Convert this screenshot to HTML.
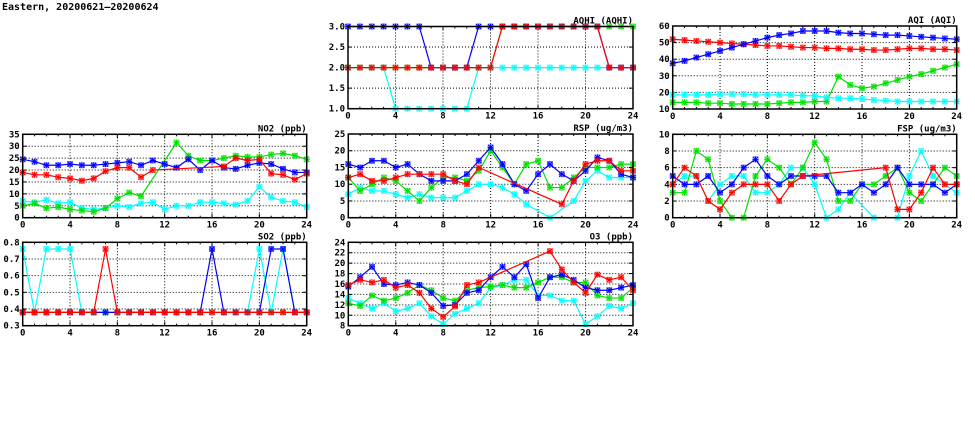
<!DOCTYPE html>
<html><head><meta charset="utf-8"><style>
body{margin:0;background:#fff;}
svg{display:block;}
text{font-family:"DejaVu Sans Mono","Liberation Mono",monospace;font-weight:bold;font-size:9px;fill:#000;}
</style></head><body>
<svg id="s" width="975" height="447" xmlns="http://www.w3.org/2000/svg">
<text x="2" y="10" style="font-size:10px">Eastern, 20200621–20200624</text>
</svg>
<script>
const S=document.getElementById('s');const NS='http://www.w3.org/2000/svg';
function el(t,a,txt){const e=document.createElementNS(NS,t);for(const k in a)e.setAttribute(k,a[k]);if(txt!==undefined)e.textContent=txt;S.appendChild(e);return e;}
const C={r:'#ff0000',g:'#00e000',b:'#0000ff',c:'#00ffff'};
function panel(p){
 const {x0,x1,yt,yb,ymin,ymax,ystep,title,series,dec}=p;
 const X=v=>x0+(x1-x0)*v/24, Y=v=>yb-(yb-yt)*(v-ymin)/(ymax-ymin);
 for(let v=4;v<24;v+=4)el('line',{x1:X(v),x2:X(v),y1:yt,y2:yb,stroke:'#000','stroke-dasharray':'1,2','stroke-width':1});
 for(let v=ymin+ystep;v<ymax-1e-9;v+=ystep)el('line',{x1:x0,x2:x1,y1:Y(v),y2:Y(v),stroke:'#000','stroke-dasharray':'1,2','stroke-width':1});
 for(let v=0;v<=24;v+=4){el('text',{x:X(v),y:yb+10,'text-anchor':'middle'},v);}
 for(let v=0;v<=24;v+=1){el('line',{x1:X(v),x2:X(v),y1:yb,y2:yb-(v%4?2:4),stroke:'#000'});el('line',{x1:X(v),x2:X(v),y1:yt,y2:yt+(v%4?2:4),stroke:'#000'});}
 for(let v=ymin;v<=ymax+1e-9;v+=ystep){el('text',{x:x0-3,y:Y(v)+3,'text-anchor':'end'},v.toFixed(dec||0));el('line',{x1:x0,x2:x0+4,y1:Y(v),y2:Y(v),stroke:'#000'});el('line',{x1:x1,x2:x1-4,y1:Y(v),y2:Y(v),stroke:'#000'});}
 el('text',{x:x1,y:yt-3,'text-anchor':'end'},title);
 for(const [col,d] of series){
  const pts=[];d.forEach((v,i)=>{if(v!==null)pts.push([X(i),Y(v)]);});
  el('polyline',{points:pts.map(q=>q.join(',')).join(' '),fill:'none',stroke:C[col],'stroke-width':1.2});
  for(const [a,b] of pts){
   el('rect',{x:a-2.5,y:b-2.5,width:5,height:5,fill:'none',stroke:C[col],'stroke-width':0.8,opacity:0.6});
   el('path',{d:`M${a-3},${b}H${a+3}M${a},${b-3}V${b+3}M${a-2.5},${b-2.5}L${a+2.5},${b+2.5}M${a-2.5},${b+2.5}L${a+2.5},${b-2.5}`,stroke:C[col],'stroke-width':1});
  }
 }
 el('rect',{x:x0,y:yt,width:x1-x0,height:yb-yt,fill:'none',stroke:'#000','stroke-width':1.5});
}
const n=null;
const rep=(v,k)=>Array(k).fill(v);
panel({x0:348,x1:633,yt:26.5,yb:108.7,ymin:1,ymax:3,ystep:0.5,dec:1,title:'AQHI (AQHI)',series:[
 ['g',[...rep(2,13),...rep(3,12)]],
 ['c',[...rep(2,4),...rep(1,7),...rep(2,14)]],
 ['b',[...rep(3,7),...rep(2,4),...rep(3,11),...rep(2,3)]],
 ['r',[...rep(2,13),...rep(3,9),...rep(2,3)]]]});
panel({x0:672.7,x1:956.7,yt:26,yb:109,ymin:10,ymax:60,ystep:10,title:'AQI (AQI)',series:[
 ['r',[52,51.5,51,50.5,50,49.5,49,48.5,48,48,47.5,47,47,46.5,46.5,46,46,45.5,45.5,46,46.5,46.5,46,46,45.5]],
 ['b',[37.5,39,41,43,45,47,49,51,53,54.5,55.5,57,57,57,56,55.5,55.5,55,54.5,54.5,54,53.5,53,52.5,52]],
 ['g',[14,14,14,13.5,13.5,13,13,13,13,13.5,14,14,14.5,14.5,29.5,24.5,22.5,23.5,25.5,27.5,29.5,31,33,35,37]],
 ['c',[18.5,18.5,18.5,18.5,19,19,19,18.5,18.5,18.5,18.5,18,18,17,16.5,16.5,16,15.5,15,14.5,14.5,14.5,14.5,14.5,14.5]]]});
panel({x0:22.7,x1:306.7,yt:134.3,yb:217.7,ymin:0,ymax:35,ystep:5,title:'NO2 (ppb)',series:[
 ['c',[7,6.5,7.5,6,6.5,4,3.5,4,5,4.5,6,6.5,3.5,5,5,6.5,6.5,6,5.5,7,13,8.5,7,6.5,4.5]],
 ['g',[5,6,4,4.5,3.5,3,2.5,4,8,10.5,9,n,n,31.5,26,24,24,25,26,25.5,25.5,26.5,27,26,24.5]],
 ['b',[24.5,23.5,22,22,22.5,22,22,22.5,23,23.5,22,24,22.5,21,24.5,20,24,21,20.5,22,23,22.5,20.5,19,19]],
 ['r',[19,18,18,17,16.5,15.5,16.5,19.5,21,21,17,20,n,n,n,n,n,21.5,25,24,24.5,18.5,18,16,18.5]]]});
panel({x0:22.7,x1:306.7,yt:242.3,yb:325.7,ymin:0.3,ymax:0.8,ystep:0.1,dec:1,title:'SO2 (ppb)',series:[
 ['g',rep(0.38,25)],
 ['c',[0.76,0.38,0.76,0.76,0.76,...rep(0.38,14),0.38,0.76,0.38,0.76,0.38,0.38]],
 ['b',[...rep(0.38,16),0.76,...rep(0.38,4),0.76,0.76,0.38,0.38]],
 ['r',[...rep(0.38,7),0.76,...rep(0.38,17)]]]});
panel({x0:348.3,x1:633,yt:134,yb:217.7,ymin:0,ymax:25,ystep:5,title:'RSP (ug/m3)',series:[
 ['c',[7,9,8,8,7,6,7,6,6,6,8,10,10,9,7,4,n,0,n,5,11,14,12,12,12]],
 ['g',[12,8,10,12,11,8,5,9,12,12,11,14,20,15,10,16,17,9,9,12,15,15,15,16,16]],
 ['b',[16,15,17,17,15,16,13,11,11,11,13,17,21,16,10,8,13,16,13,11,14,18,17,13,12]],
 ['r',[12,13,11,11,12,13,13,13,13,11,10,15,n,n,n,n,n,n,4,11,16,17,17,14,14]]]});
panel({x0:348.3,x1:633,yt:242.3,yb:325.7,ymin:8,ymax:24,ystep:2,title:'O3 (ppb)',series:[
 ['c',[13.3,12.3,11.3,12.3,10.8,11.3,12.3,9.8,8.3,10.3,11.3,12.3,15.3,15.8,16.8,16.8,13.8,13.8,12.8,12.8,8.3,9.8,11.8,11.3,12.3]],
 ['g',[12.3,11.8,13.8,12.8,13.3,14.3,15.8,14.8,13.3,12.8,14.8,15.3,15.5,15.8,15.3,15.3,16.3,17.3,17.3,16.3,16.3,13.8,13.3,13.3,15.3]],
 ['b',[15.5,17.3,19.3,16,15.8,16.3,15.8,14.3,11.8,12,14.3,14.8,17.3,19.3,17.3,19.8,13.3,17.3,17.8,16.8,15.3,14.8,14.8,15.3,15.8]],
 ['r',[15.8,16.8,16.3,16.8,15.3,15.8,14.3,11.3,9.7,11.7,15.8,16.3,n,n,n,n,n,22.3,18.8,16.3,14.3,17.8,16.8,17.3,14.8]]]});
panel({x0:672.7,x1:956.7,yt:134.3,yb:217.7,ymin:0,ymax:10,ystep:2,title:'FSP (ug/m3)',series:[
 ['c',[4,5,5,2,4,5,5,3,3,4,6,6,4,0,1,3,n,0,n,0,5,8,5,4,3]],
 ['g',[3,3,8,7,2,0,0,5,7,6,4,6,9,7,2,2,4,4,5,6,3,2,4,6,5]],
 ['b',[5,4,4,5,3,4,6,7,5,4,5,5,5,5,3,3,4,3,4,6,4,4,4,3,4]],
 ['r',[4,6,5,2,1,3,4,4,4,2,4,5,n,n,n,n,n,n,6,1,1,3,6,4,4]]]});
</script>
</body></html>
